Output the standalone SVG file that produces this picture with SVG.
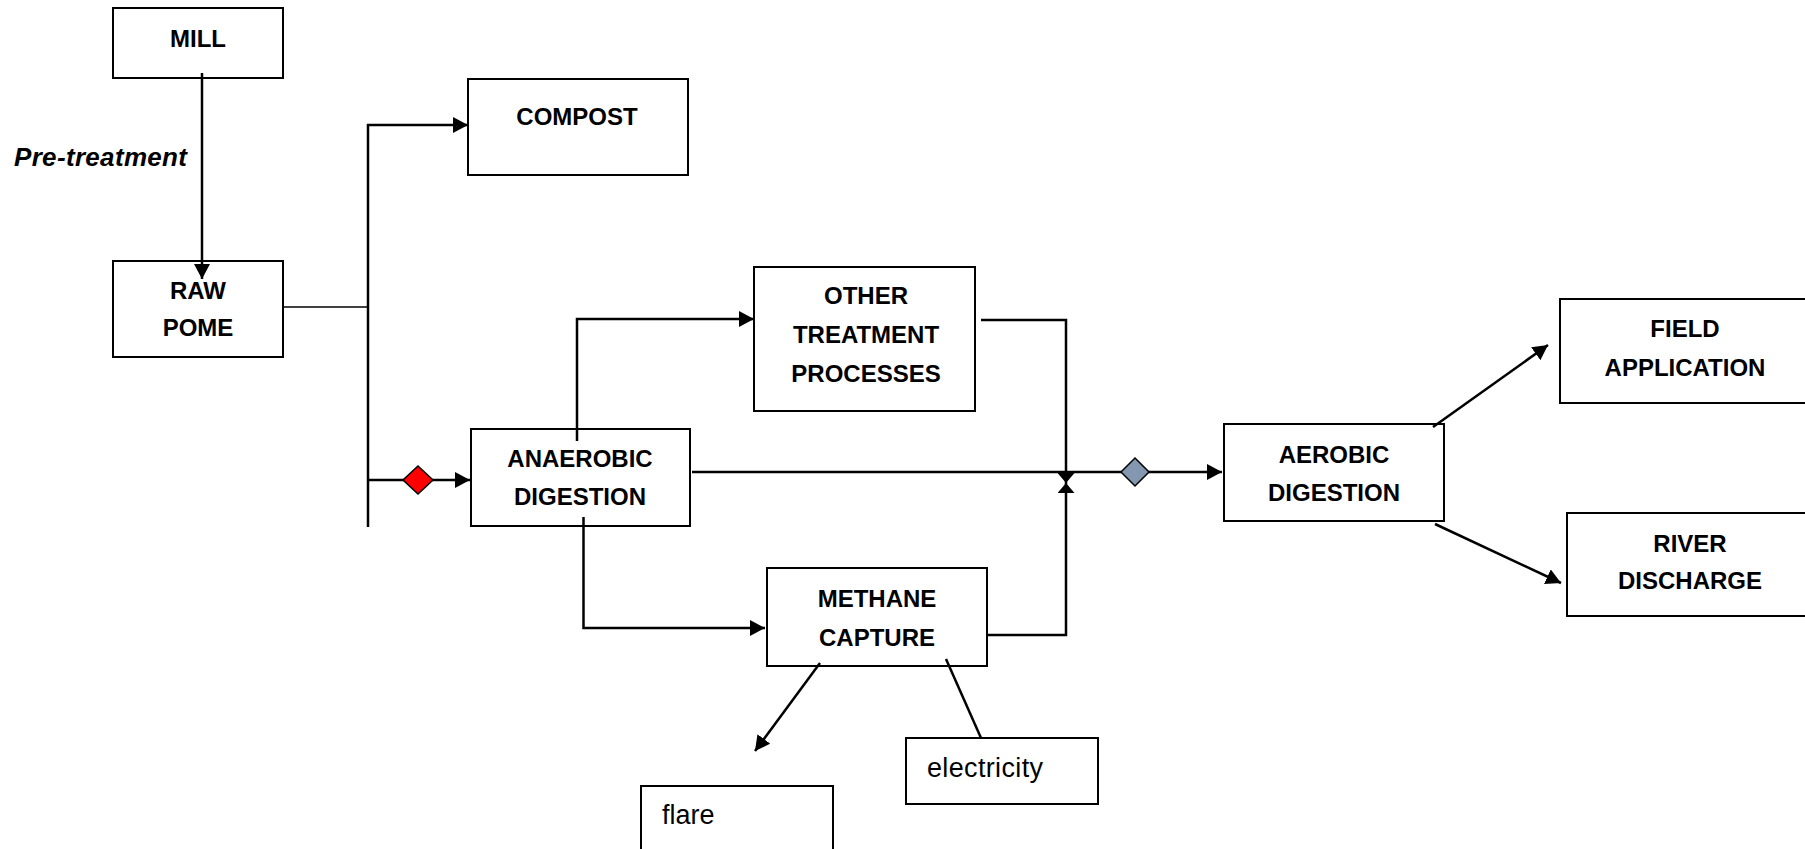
<svg xmlns="http://www.w3.org/2000/svg" width="1805" height="849" viewBox="0 0 1805 849">
<style>
.box{fill:#fff;stroke:#000;stroke-width:2}
.lbl{font-family:"Liberation Sans",Arial,sans-serif;font-weight:bold;font-size:24px;fill:#000;text-anchor:middle}
.plain{font-family:"Liberation Sans",Arial,sans-serif;font-size:27px;fill:#000}
.con{fill:none;stroke:#000;stroke-width:2.5}
.thin{fill:none;stroke:#000;stroke-width:1.5}
</style>
<defs>
<marker id="arr" markerUnits="userSpaceOnUse" markerWidth="16" markerHeight="16" refX="15" refY="8" orient="auto">
<path d="M0,0 L15,8 L0,16 z" fill="#000"/>
</marker>
<marker id="bow" markerUnits="userSpaceOnUse" markerWidth="11" markerHeight="17" refX="10" refY="8.5" orient="auto">
<path d="M0,0 L10,8.5 L0,17 z" fill="#000"/>
</marker>
</defs>
<rect width="1805" height="849" fill="#fff"/>

<text class="lbl" x="14" y="166" style="font-style:italic;text-anchor:start;font-size:26px" textLength="173">Pre-treatment</text>

<g id="mill">
<rect class="box" x="113" y="8" width="170" height="70"/>
<text class="lbl" x="198" y="47">MILL</text>
</g>
<g id="raw-pome">
<rect class="box" x="113" y="261" width="170" height="96"/>
<text class="lbl" x="198" y="299">RAW</text>
<text class="lbl" x="198" y="336">POME</text>
</g>
<g id="compost">
<rect class="box" x="468" y="79" width="220" height="96"/>
<text class="lbl" x="577" y="125">COMPOST</text>
</g>
<g id="anaerobic">
<rect class="box" x="471" y="429" width="219" height="97"/>
<text class="lbl" x="580" y="467">ANAEROBIC</text>
<text class="lbl" x="580" y="505">DIGESTION</text>
</g>
<g id="other">
<rect class="box" x="754" y="267" width="221" height="144"/>
<text class="lbl" x="866" y="304">OTHER</text>
<text class="lbl" x="866" y="343">TREATMENT</text>
<text class="lbl" x="866" y="382">PROCESSES</text>
</g>
<g id="methane">
<rect class="box" x="767" y="568" width="220" height="98"/>
<text class="lbl" x="877" y="607">METHANE</text>
<text class="lbl" x="877" y="646">CAPTURE</text>
</g>
<g id="aerobic">
<rect class="box" x="1224" y="424" width="220" height="97"/>
<text class="lbl" x="1334" y="463">AEROBIC</text>
<text class="lbl" x="1334" y="501">DIGESTION</text>
</g>
<g id="field">
<rect class="box" x="1560" y="299" width="260" height="104"/>
<text class="lbl" x="1685" y="337">FIELD</text>
<text class="lbl" x="1685" y="376">APPLICATION</text>
</g>
<g id="river">
<rect class="box" x="1567" y="513" width="260" height="103"/>
<text class="lbl" x="1690" y="552">RIVER</text>
<text class="lbl" x="1690" y="589">DISCHARGE</text>
</g>
<g id="electricity">
<rect class="box" x="906" y="738" width="192" height="66"/>
<text class="plain" x="927" y="777" textLength="116">electricity</text>
</g>
<g id="flare">
<rect class="box" x="641" y="786" width="192" height="80"/>
<text class="plain" x="662" y="824">flare</text>
</g>

<g id="connectors">
<path class="con" d="M202,73 V279" marker-end="url(#arr)"/>
<path class="thin" d="M283,307 H368"/>
<path class="con" d="M368,124 V527"/>
<path class="con" d="M367,125 H468" marker-end="url(#arr)"/>
<path class="con" d="M368,480 H470" marker-end="url(#arr)"/>
<path class="con" d="M577,441 V319 H754" marker-end="url(#arr)"/>
<path class="con" d="M583.5,517 V628 H765" marker-end="url(#arr)"/>
<path class="con" d="M692,472 H1222" marker-end="url(#arr)"/>
<path class="con" d="M981,320 H1066 V483" marker-end="url(#bow)"/>
<path class="con" d="M988,635 H1066 V483" marker-end="url(#bow)"/>
<path class="con" d="M1433,427 L1548,345" marker-end="url(#arr)"/>
<path class="con" d="M1435,524 L1561,583" marker-end="url(#arr)"/>
<path class="con" d="M820,663 L755,751" marker-end="url(#arr)"/>
<path class="con" d="M946,659 L981,738"/>
<polygon points="418,466 433,480 418,494 403,480" fill="#ff0000" stroke="#000" stroke-width="1.5"/>
<polygon points="1135,458 1149,472 1135,486 1121,472" fill="#8497b0" stroke="#000" stroke-width="1.5"/>
</g>
</svg>
